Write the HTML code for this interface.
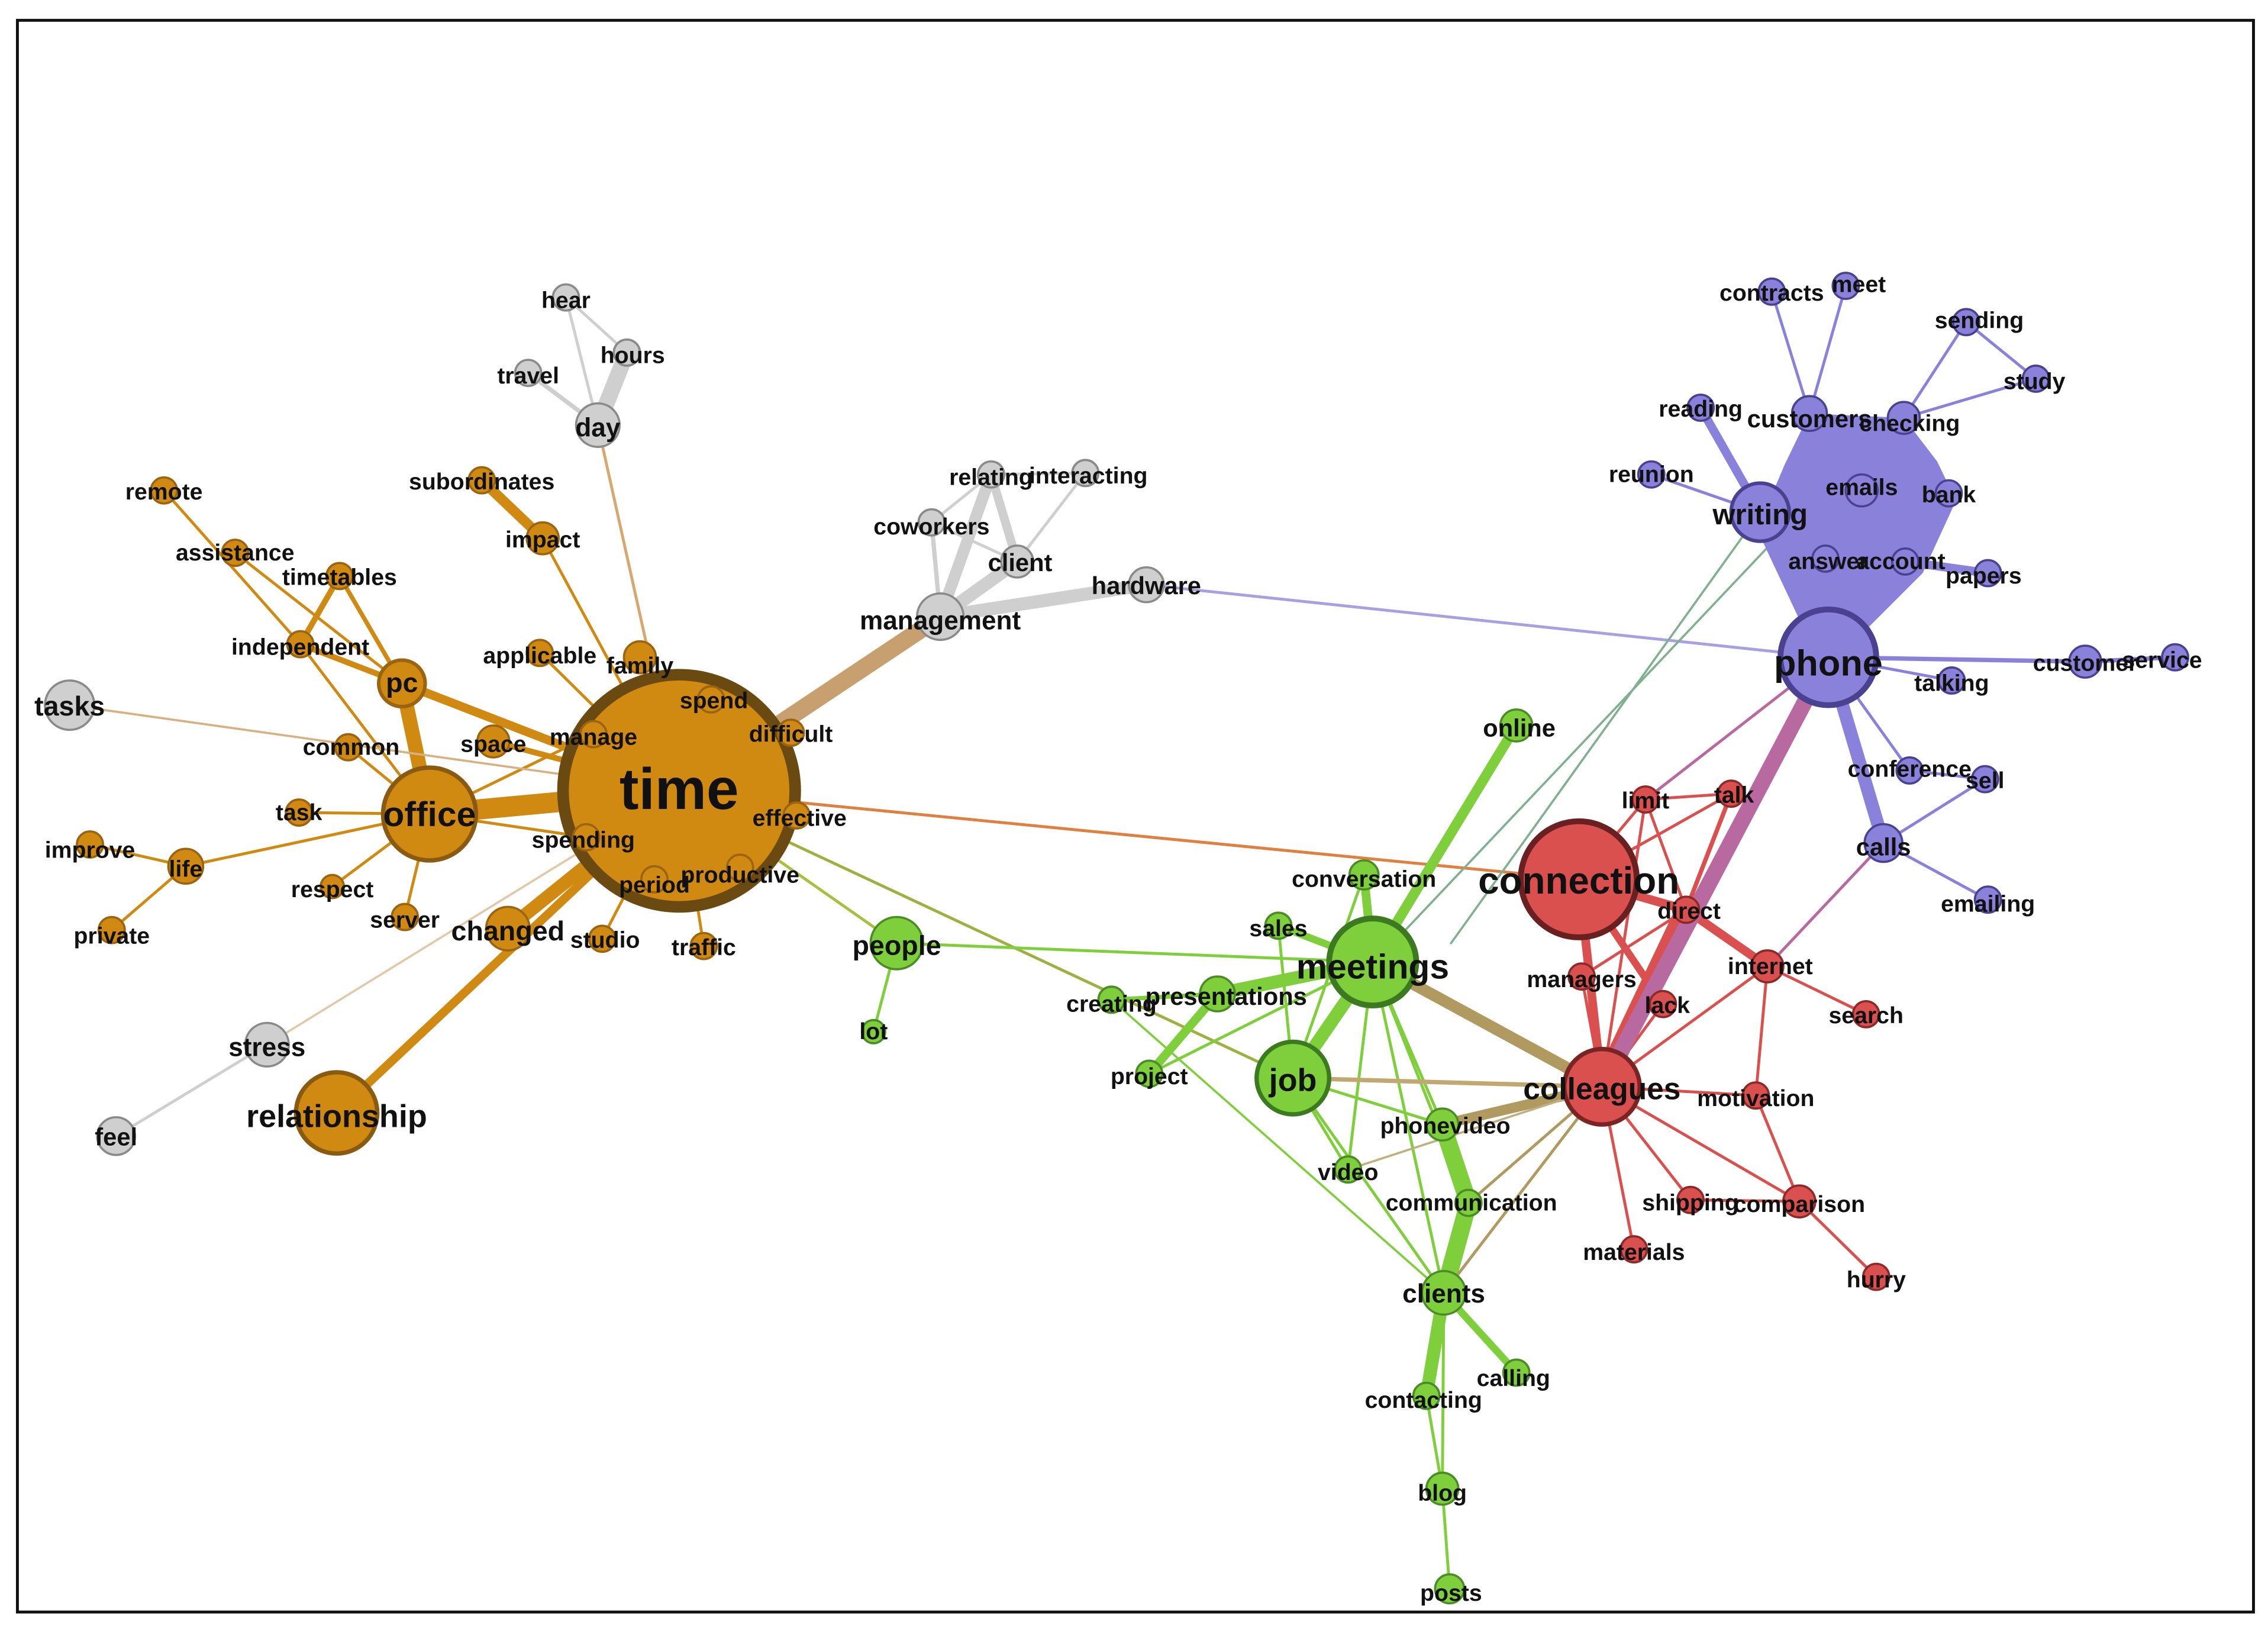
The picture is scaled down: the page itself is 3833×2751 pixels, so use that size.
<!DOCTYPE html>
<html><head><meta charset="utf-8"><style>
html,body{margin:0;padding:0;background:#fff}
svg{display:block}
text{font-family:"Liberation Sans",Arial,sans-serif;font-weight:bold;fill:#111;text-anchor:middle;dominant-baseline:middle}
.o{fill:#d08a12;stroke:#9a6410;stroke-width:1.5}
.g{fill:#cfcfcf;stroke:#8a8a8a;stroke-width:1.5}
.gr{fill:#7fcf3c;stroke:#4c8c26;stroke-width:1.5}
.r{fill:#d9504f;stroke:#8c2a2a;stroke-width:1.5}
.p{fill:#8a82da;stroke:#4a4290;stroke-width:1.5}
</style></head><body>
<svg width="3833" height="2751" viewBox="0 0 1563 1122" preserveAspectRatio="none" xmlns="http://www.w3.org/2000/svg">
<rect x="0" y="0" width="1563" height="1122" fill="#fff"/>
<rect x="12" y="14" width="1541" height="1097" fill="none" stroke="#111" stroke-width="2"/>

<!-- edges -->
<g stroke-linecap="round" fill="none">
<!-- orange -->
<g stroke="#d08a12">
<line x1="468" y1="545" x2="296" y2="561" stroke-width="14"/>
<line x1="296" y1="561" x2="277" y2="471" stroke-width="10"/>
<line x1="277" y1="471" x2="468" y2="545" stroke-width="6"/>
<line x1="468" y1="545" x2="350" y2="640" stroke-width="9"/>
<line x1="468" y1="545" x2="232" y2="767" stroke-width="6"/>
<line x1="332" y1="331" x2="374" y2="371" stroke-width="7"/>
<line x1="374" y1="371" x2="468" y2="545" stroke-width="2"/>
<line x1="113" y1="338" x2="207" y2="444" stroke-width="2"/>
<line x1="162" y1="381" x2="277" y2="471" stroke-width="2"/>
<line x1="234" y1="397" x2="277" y2="471" stroke-width="3"/>
<line x1="234" y1="397" x2="207" y2="444" stroke-width="4"/>
<line x1="207" y1="444" x2="277" y2="471" stroke-width="4"/>
<line x1="207" y1="444" x2="296" y2="561" stroke-width="2"/>
<line x1="372" y1="450" x2="468" y2="545" stroke-width="2"/>
<line x1="441" y1="453" x2="468" y2="545" stroke-width="2"/>
<line x1="340" y1="511" x2="468" y2="545" stroke-width="4"/>
<line x1="240" y1="515" x2="296" y2="561" stroke-width="2"/>
<line x1="206" y1="560" x2="296" y2="561" stroke-width="2"/>
<line x1="128" y1="597" x2="296" y2="561" stroke-width="2"/>
<line x1="62" y1="582" x2="128" y2="597" stroke-width="2"/>
<line x1="77" y1="641" x2="128" y2="597" stroke-width="2"/>
<line x1="229" y1="611" x2="296" y2="561" stroke-width="2"/>
<line x1="279" y1="632" x2="296" y2="561" stroke-width="2"/>
<line x1="415" y1="647" x2="468" y2="545" stroke-width="2"/>
<line x1="485" y1="652" x2="468" y2="545" stroke-width="2"/>
<line x1="409" y1="506" x2="296" y2="561" stroke-width="2"/>
<line x1="404" y1="577" x2="296" y2="561" stroke-width="2"/>
</g>
<line x1="412" y1="293" x2="468" y2="545" stroke="#d4a870" stroke-width="2"/>
<line x1="48" y1="486" x2="468" y2="545" stroke="#d9b080" stroke-width="1.5"/>
<line x1="184" y1="720" x2="468" y2="545" stroke="#e0c8a8" stroke-width="1.5"/>
<line x1="468" y1="545" x2="648" y2="425" stroke="#c8a070" stroke-width="12"/>
<line x1="468" y1="545" x2="1088" y2="606" stroke="#e08040" stroke-width="2"/>
<line x1="468" y1="545" x2="618" y2="650" stroke="#a8c040" stroke-width="2"/>
<line x1="468" y1="545" x2="891" y2="743" stroke="#a0b040" stroke-width="2"/>
<!-- gray -->
<g stroke="#cfcfcf">
<line x1="390" y1="205" x2="412" y2="293" stroke-width="2"/>
<line x1="364" y1="257" x2="412" y2="293" stroke-width="3"/>
<line x1="432" y1="243" x2="412" y2="293" stroke-width="11"/>
<line x1="390" y1="205" x2="432" y2="243" stroke-width="2"/>
<line x1="184" y1="720" x2="80" y2="783" stroke-width="2"/>
<line x1="648" y1="425" x2="683" y2="327" stroke-width="8"/>
<line x1="648" y1="425" x2="701" y2="387" stroke-width="9"/>
<line x1="648" y1="425" x2="790" y2="403" stroke-width="9"/>
<line x1="648" y1="425" x2="642" y2="360" stroke-width="3"/>
<line x1="642" y1="360" x2="683" y2="327" stroke-width="2"/>
<line x1="642" y1="360" x2="701" y2="387" stroke-width="2"/>
<line x1="683" y1="327" x2="701" y2="387" stroke-width="6"/>
<line x1="748" y1="326" x2="701" y2="387" stroke-width="2"/>
<line x1="748" y1="326" x2="683" y2="327" stroke-width="2"/>
</g>
<line x1="790" y1="403" x2="1260" y2="453" stroke="#a8a0e0" stroke-width="2"/>
<!-- green -->
<g stroke="#7fcf3c">
<line x1="946" y1="663" x2="891" y2="743" stroke-width="9"/>
<line x1="946" y1="663" x2="1045" y2="500" stroke-width="7"/>
<line x1="946" y1="663" x2="940" y2="603" stroke-width="6"/>
<line x1="946" y1="663" x2="881" y2="638" stroke-width="5"/>
<line x1="946" y1="663" x2="839" y2="685" stroke-width="9"/>
<line x1="839" y1="685" x2="792" y2="740" stroke-width="6"/>
<line x1="839" y1="685" x2="766" y2="689" stroke-width="3"/>
<line x1="618" y1="650" x2="946" y2="663" stroke-width="2"/>
<line x1="618" y1="650" x2="602" y2="711" stroke-width="2"/>
<line x1="994" y1="775" x2="1012" y2="829" stroke-width="12"/>
<line x1="1012" y1="829" x2="995" y2="891" stroke-width="12"/>
<line x1="995" y1="891" x2="983" y2="962" stroke-width="9"/>
<line x1="995" y1="891" x2="1045" y2="946" stroke-width="5"/>
<line x1="983" y1="962" x2="994" y2="1026" stroke-width="2"/>
<line x1="994" y1="1026" x2="999" y2="1095" stroke-width="2"/>
<line x1="995" y1="891" x2="994" y2="1026" stroke-width="2"/>
<line x1="946" y1="663" x2="994" y2="775" stroke-width="2"/>
<line x1="946" y1="663" x2="929" y2="806" stroke-width="2"/>
<line x1="946" y1="663" x2="1012" y2="829" stroke-width="2"/>
<line x1="946" y1="663" x2="995" y2="891" stroke-width="2"/>
<line x1="891" y1="743" x2="929" y2="806" stroke-width="2"/>
<line x1="891" y1="743" x2="995" y2="891" stroke-width="2"/>
<line x1="891" y1="743" x2="994" y2="775" stroke-width="2"/>
<line x1="766" y1="689" x2="995" y2="891" stroke-width="1.5"/>
<line x1="792" y1="740" x2="946" y2="663" stroke-width="2"/>
<line x1="881" y1="638" x2="891" y2="743" stroke-width="2"/>
<line x1="940" y1="603" x2="891" y2="743" stroke-width="2"/>
</g>
<line x1="946" y1="663" x2="1104" y2="749" stroke="#b09a60" stroke-width="8"/>
<line x1="891" y1="743" x2="1104" y2="749" stroke="#c0a870" stroke-width="3"/>
<line x1="994" y1="775" x2="1104" y2="749" stroke="#b09a60" stroke-width="7"/>
<line x1="1012" y1="829" x2="1104" y2="749" stroke="#b09a60" stroke-width="2"/>
<line x1="995" y1="891" x2="1104" y2="749" stroke="#b09a60" stroke-width="2"/>
<line x1="929" y1="806" x2="1104" y2="749" stroke="#c0b080" stroke-width="1.5"/>
<line x1="1000" y1="650" x2="1213" y2="353" stroke="#80b090" stroke-width="1.5"/>
<line x1="960" y1="650" x2="1225" y2="370" stroke="#80b090" stroke-width="1.5"/>
<!-- red -->
<g stroke="#d9504f">
<line x1="1088" y1="606" x2="1104" y2="749" stroke-width="6"/>
<line x1="1162" y1="627" x2="1104" y2="749" stroke-width="14"/>
<line x1="1088" y1="606" x2="1162" y2="627" stroke-width="6"/>
<line x1="1162" y1="627" x2="1218" y2="666" stroke-width="6"/>
<line x1="1088" y1="606" x2="1146" y2="692" stroke-width="5"/>
<line x1="1088" y1="606" x2="1134" y2="551" stroke-width="2"/>
<line x1="1088" y1="606" x2="1193" y2="547" stroke-width="2"/>
<line x1="1134" y1="551" x2="1193" y2="547" stroke-width="2"/>
<line x1="1134" y1="551" x2="1162" y2="627" stroke-width="2"/>
<line x1="1193" y1="547" x2="1162" y2="627" stroke-width="3"/>
<line x1="1090" y1="673" x2="1104" y2="749" stroke-width="2"/>
<line x1="1090" y1="673" x2="1162" y2="627" stroke-width="2"/>
<line x1="1218" y1="666" x2="1286" y2="699" stroke-width="2"/>
<line x1="1218" y1="666" x2="1104" y2="749" stroke-width="2"/>
<line x1="1218" y1="666" x2="1210" y2="755" stroke-width="2"/>
<line x1="1104" y1="749" x2="1210" y2="755" stroke-width="2"/>
<line x1="1104" y1="749" x2="1165" y2="827" stroke-width="2"/>
<line x1="1104" y1="749" x2="1240" y2="828" stroke-width="2"/>
<line x1="1104" y1="749" x2="1126" y2="861" stroke-width="2"/>
<line x1="1165" y1="827" x2="1240" y2="828" stroke-width="2"/>
<line x1="1240" y1="828" x2="1293" y2="880" stroke-width="2"/>
<line x1="1210" y1="755" x2="1240" y2="828" stroke-width="2"/>
<line x1="1134" y1="551" x2="1104" y2="749" stroke-width="2"/>
<line x1="1146" y1="692" x2="1104" y2="749" stroke-width="2"/>
</g>
<line x1="1260" y1="453" x2="1104" y2="749" stroke="#b86aa0" stroke-width="11"/>
<line x1="1260" y1="453" x2="1134" y2="551" stroke="#b86aa0" stroke-width="2"/>
<line x1="1298" y1="581" x2="1218" y2="666" stroke="#b86aa0" stroke-width="2"/>
<!-- purple -->
<polygon points="1247,285 1312,288 1335,318 1348,345 1325,395 1280,440 1262,440 1236,395 1213,360 1230,320" fill="#8a82da"/>
<g stroke="#8a82da">
<line x1="1213" y1="353" x2="1260" y2="453" stroke-width="14"/>
<line x1="1258" y1="385" x2="1260" y2="453" stroke-width="10"/>
<line x1="1313" y1="387" x2="1260" y2="453" stroke-width="14"/>
<line x1="1313" y1="387" x2="1370" y2="395" stroke-width="6"/>
<line x1="1172" y1="281" x2="1213" y2="353" stroke-width="6"/>
<line x1="1138" y1="327" x2="1213" y2="353" stroke-width="2"/>
<line x1="1221" y1="201" x2="1247" y2="285" stroke-width="2"/>
<line x1="1272" y1="197" x2="1247" y2="285" stroke-width="2"/>
<line x1="1355" y1="222" x2="1312" y2="288" stroke-width="2"/>
<line x1="1355" y1="222" x2="1403" y2="261" stroke-width="2"/>
<line x1="1403" y1="261" x2="1312" y2="288" stroke-width="2"/>
<line x1="1260" y1="453" x2="1437" y2="456" stroke-width="3"/>
<line x1="1437" y1="456" x2="1499" y2="453" stroke-width="3"/>
<line x1="1260" y1="453" x2="1345" y2="469" stroke-width="2"/>
<line x1="1260" y1="453" x2="1298" y2="581" stroke-width="9"/>
<line x1="1260" y1="453" x2="1316" y2="531" stroke-width="2"/>
<line x1="1316" y1="531" x2="1368" y2="537" stroke-width="2"/>
<line x1="1298" y1="581" x2="1368" y2="537" stroke-width="2"/>
<line x1="1298" y1="581" x2="1370" y2="620" stroke-width="2"/>
</g>
</g>

<!-- nodes -->
<g>
<circle class="o" cx="468" cy="545" r="80" stroke="#6b4a12" style="stroke:#6b4a12;stroke-width:8"/>
<circle class="o" cx="296" cy="561" r="32" style="stroke:#8a5a10;stroke-width:3"/>
<circle class="o" cx="277" cy="471" r="16" style="stroke-width:2.5"/>
<circle class="o" cx="232" cy="767" r="28" style="stroke:#8a5a10;stroke-width:3"/>
<circle class="o" cx="350" cy="640" r="15"/>
<circle class="o" cx="113" cy="338" r="9"/>
<circle class="o" cx="162" cy="381" r="9"/>
<circle class="o" cx="234" cy="397" r="9"/>
<circle class="o" cx="207" cy="444" r="9"/>
<circle class="o" cx="332" cy="331" r="9"/>
<circle class="o" cx="374" cy="371" r="11"/>
<circle class="o" cx="372" cy="450" r="9"/>
<circle class="o" cx="441" cy="453" r="11"/>
<circle class="o" cx="490" cy="482" r="9"/>
<circle class="o" cx="545" cy="505" r="9"/>
<circle class="o" cx="409" cy="506" r="9"/>
<circle class="o" cx="340" cy="511" r="11"/>
<circle class="o" cx="240" cy="515" r="9"/>
<circle class="o" cx="206" cy="560" r="9"/>
<circle class="o" cx="62" cy="582" r="9"/>
<circle class="o" cx="128" cy="597" r="12"/>
<circle class="o" cx="77" cy="641" r="9"/>
<circle class="o" cx="229" cy="611" r="8"/>
<circle class="o" cx="279" cy="632" r="9"/>
<circle class="o" cx="404" cy="577" r="9"/>
<circle class="o" cx="451" cy="606" r="9"/>
<circle class="o" cx="510" cy="598" r="9"/>
<circle class="o" cx="549" cy="562" r="9"/>
<circle class="o" cx="415" cy="647" r="9"/>
<circle class="o" cx="485" cy="652" r="9"/>

<circle class="g" cx="390" cy="205" r="9"/>
<circle class="g" cx="364" cy="257" r="9"/>
<circle class="g" cx="432" cy="243" r="9"/>
<circle class="g" cx="412" cy="293" r="15"/>
<circle class="g" cx="683" cy="327" r="9"/>
<circle class="g" cx="748" cy="326" r="9"/>
<circle class="g" cx="642" cy="360" r="9"/>
<circle class="g" cx="701" cy="387" r="11"/>
<circle class="g" cx="790" cy="403" r="12"/>
<circle class="g" cx="648" cy="425" r="16"/>
<circle class="g" cx="48" cy="486" r="17"/>
<circle class="g" cx="184" cy="720" r="15"/>
<circle class="g" cx="80" cy="783" r="13"/>

<circle class="gr" cx="946" cy="663" r="30" style="stroke:#3c7a20;stroke-width:4"/>
<circle class="gr" cx="891" cy="743" r="25" style="stroke:#3c7a20;stroke-width:3"/>
<circle class="gr" cx="618" cy="650" r="18"/>
<circle class="gr" cx="602" cy="711" r="8"/>
<circle class="gr" cx="1045" cy="500" r="11"/>
<circle class="gr" cx="940" cy="603" r="10"/>
<circle class="gr" cx="881" cy="638" r="9"/>
<circle class="gr" cx="839" cy="685" r="12"/>
<circle class="gr" cx="766" cy="689" r="9"/>
<circle class="gr" cx="792" cy="740" r="9"/>
<circle class="gr" cx="994" cy="775" r="11"/>
<circle class="gr" cx="929" cy="806" r="9"/>
<circle class="gr" cx="1012" cy="829" r="9"/>
<circle class="gr" cx="995" cy="891" r="15"/>
<circle class="gr" cx="1045" cy="946" r="9"/>
<circle class="gr" cx="983" cy="962" r="9"/>
<circle class="gr" cx="994" cy="1026" r="11"/>
<circle class="gr" cx="999" cy="1095" r="10"/>

<circle class="r" cx="1088" cy="606" r="40" style="stroke:#6a2020;stroke-width:4"/>
<circle class="r" cx="1104" cy="749" r="26" style="stroke:#7a2424;stroke-width:3"/>
<circle class="r" cx="1134" cy="551" r="9"/>
<circle class="r" cx="1193" cy="547" r="9"/>
<circle class="r" cx="1162" cy="627" r="9"/>
<circle class="r" cx="1218" cy="666" r="11"/>
<circle class="r" cx="1090" cy="673" r="9"/>
<circle class="r" cx="1146" cy="692" r="9"/>
<circle class="r" cx="1286" cy="699" r="9"/>
<circle class="r" cx="1210" cy="755" r="9"/>
<circle class="r" cx="1165" cy="827" r="9"/>
<circle class="r" cx="1240" cy="828" r="11"/>
<circle class="r" cx="1126" cy="861" r="9"/>
<circle class="r" cx="1293" cy="880" r="9"/>

<circle class="p" cx="1260" cy="453" r="33" style="stroke:#4a4290;stroke-width:4"/>
<circle class="p" cx="1213" cy="353" r="20" style="stroke-width:2.5"/>
<circle class="p" cx="1247" cy="285" r="12"/>
<circle class="p" cx="1312" cy="288" r="11"/>
<circle class="p" cx="1221" cy="201" r="9"/>
<circle class="p" cx="1272" cy="197" r="9"/>
<circle class="p" cx="1355" cy="222" r="9"/>
<circle class="p" cx="1403" cy="261" r="9"/>
<circle class="p" cx="1172" cy="281" r="9"/>
<circle class="p" cx="1138" cy="327" r="9"/>
<circle class="p" cx="1283" cy="338" r="11"/>
<circle class="p" cx="1343" cy="340" r="9"/>
<circle class="p" cx="1258" cy="385" r="9"/>
<circle class="p" cx="1313" cy="387" r="9"/>
<circle class="p" cx="1370" cy="395" r="9"/>
<circle class="p" cx="1437" cy="456" r="11"/>
<circle class="p" cx="1499" cy="453" r="9"/>
<circle class="p" cx="1345" cy="469" r="9"/>
<circle class="p" cx="1316" cy="531" r="9"/>
<circle class="p" cx="1368" cy="537" r="9"/>
<circle class="p" cx="1298" cy="581" r="13"/>
<circle class="p" cx="1370" cy="620" r="9"/>
</g>

<!-- labels -->
<g font-size="16">
<text x="468" y="547" font-size="40">time</text>
<text x="296" y="563" font-size="24">office</text>
<text x="277" y="472" font-size="19">pc</text>
<text x="232" y="771" font-size="22">relationship</text>
<text x="350" y="643" font-size="19">changed</text>
<text x="113" y="340">remote</text>
<text x="162" y="382">assistance</text>
<text x="234" y="399">timetables</text>
<text x="207" y="447">independent</text>
<text x="332" y="333">subordinates</text>
<text x="374" y="373">impact</text>
<text x="372" y="453">applicable</text>
<text x="441" y="460">family</text>
<text x="492" y="484">spend</text>
<text x="545" y="507">difficult</text>
<text x="409" y="509">manage</text>
<text x="340" y="514">space</text>
<text x="242" y="516">common</text>
<text x="206" y="561">task</text>
<text x="62" y="587">improve</text>
<text x="128" y="600">life</text>
<text x="77" y="646">private</text>
<text x="229" y="614">respect</text>
<text x="279" y="635">server</text>
<text x="402" y="580">spending</text>
<text x="451" y="611">period</text>
<text x="510" y="604">productive</text>
<text x="551" y="565">effective</text>
<text x="417" y="649">studio</text>
<text x="485" y="654">traffic</text>
<text x="390" y="208">hear</text>
<text x="364" y="260">travel</text>
<text x="436" y="246">hours</text>
<text x="412" y="296" font-size="18">day</text>
<text x="683" y="330">relating</text>
<text x="750" y="329">interacting</text>
<text x="642" y="364">coworkers</text>
<text x="703" y="389" font-size="17">client</text>
<text x="790" y="405" font-size="17">hardware</text>
<text x="648" y="429" font-size="18">management</text>
<text x="48" y="488" font-size="19">tasks</text>
<text x="184" y="723" font-size="18">stress</text>
<text x="80" y="785" font-size="17">feel</text>
<text x="946" y="668" font-size="24">meetings</text>
<text x="891" y="746" font-size="22">job</text>
<text x="618" y="653" font-size="19">people</text>
<text x="602" y="712">lot</text>
<text x="1047" y="503" font-size="17">online</text>
<text x="940" y="607">conversation</text>
<text x="881" y="641">sales</text>
<text x="845" y="688" font-size="17">presentations</text>
<text x="766" y="693">creating</text>
<text x="792" y="743">project</text>
<text x="996" y="777">phonevideo</text>
<text x="929" y="809">video</text>
<text x="1014" y="830">communication</text>
<text x="995" y="893" font-size="18">clients</text>
<text x="1043" y="951">calling</text>
<text x="981" y="966">contacting</text>
<text x="994" y="1030">blog</text>
<text x="1000" y="1099">posts</text>
<text x="1088" y="609" font-size="26">connection</text>
<text x="1104" y="752" font-size="21">colleagues</text>
<text x="1134" y="553">limit</text>
<text x="1195" y="549">talk</text>
<text x="1164" y="629">direct</text>
<text x="1220" y="667">internet</text>
<text x="1090" y="676">managers</text>
<text x="1149" y="694">lack</text>
<text x="1286" y="701">search</text>
<text x="1210" y="758">motivation</text>
<text x="1165" y="830">shipping</text>
<text x="1240" y="831">comparison</text>
<text x="1126" y="864">materials</text>
<text x="1293" y="883">hurry</text>
<text x="1260" y="459" font-size="25">phone</text>
<text x="1213" y="356" font-size="20">writing</text>
<text x="1247" y="290" font-size="17">customers</text>
<text x="1316" y="293">checking</text>
<text x="1221" y="203">contracts</text>
<text x="1281" y="197">meet</text>
<text x="1364" y="222">sending</text>
<text x="1402" y="264">study</text>
<text x="1172" y="283">reading</text>
<text x="1138" y="328">reunion</text>
<text x="1283" y="337">emails</text>
<text x="1343" y="342">bank</text>
<text x="1260" y="388">answer</text>
<text x="1310" y="388">account</text>
<text x="1367" y="398">papers</text>
<text x="1437" y="458">customer</text>
<text x="1490" y="456">service</text>
<text x="1345" y="472">talking</text>
<text x="1316" y="531">conference</text>
<text x="1368" y="539">sell</text>
<text x="1298" y="585" font-size="17">calls</text>
<text x="1370" y="624">emailing</text>
</g>
</svg>
</body></html>
